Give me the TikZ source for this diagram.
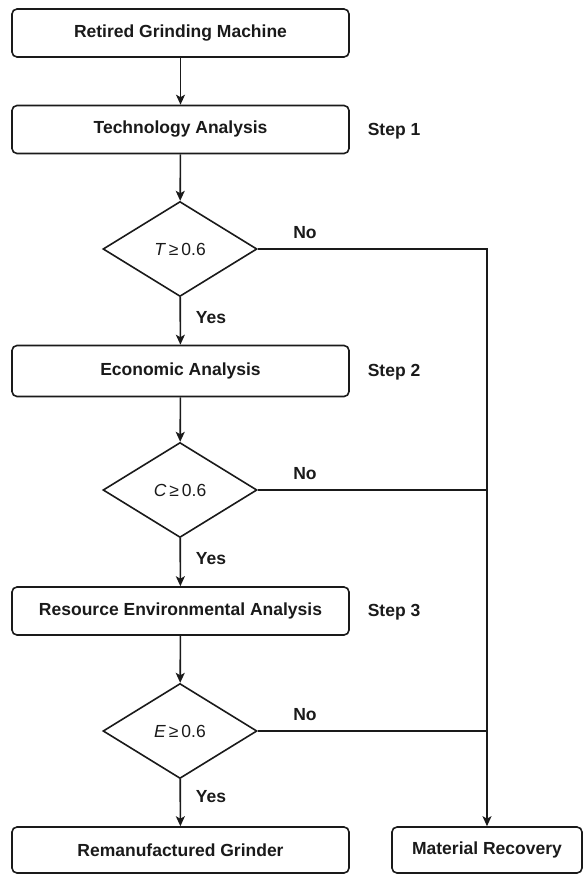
\documentclass[tikz,border=0pt]{standalone}
\usepackage{fontspec}
\setmainfont{Liberation Sans}
\usetikzlibrary{shapes.geometric,arrows.meta}
\definecolor{ink}{HTML}{1A1A1A}
\begin{document}
\begin{tikzpicture}[x=1pt,y=-1pt,
  line width=1.6pt, draw=ink,
  box/.style={draw=ink,rounded corners=5pt,minimum width=337pt,minimum height=48pt,inner sep=0pt,
    text=ink,font=\bfseries\fontsize{17.5}{19}\selectfont},
  dec/.style={draw=ink,diamond,minimum width=154pt,minimum height=95pt,inner sep=0pt,
    text=ink,font=\fontsize{17.5}{19}\selectfont},
  lbl/.style={text=ink,inner sep=0pt,font=\bfseries\fontsize{17.5}{19}\selectfont},
  arr/.style={draw=ink,-{Stealth[length=10pt,width=9pt,inset=2.5pt]}}
]
\useasboundingbox (0,0) rectangle (583,875);
\node[box] (b1) at (180.5,33) {Retired Grinding Machine};
\node[box] (b2) at (180.5,129.5) {Technology Analysis};
\node[dec] (d1) at (180,249) {\textit{T}\,≥\,0.6};
\node[box,minimum height=51pt] (b3) at (180.5,371) {Economic Analysis};
\node[dec] (d2) at (180,490) {\textit{C}\,≥\,0.6};
\node[box] (b4) at (180.5,611) {Resource Environmental Analysis};
\node[dec] (d3) at (180,731) {\textit{E}\,≥\,0.6};
\node[box,minimum height=46pt] (b5) at (180.5,850) {Remanufactured Grinder};
\node[box,minimum width=190pt,minimum height=46pt] (mr) at (487,850) {Material Recovery};

\node[lbl,anchor=west] (s1) at (367,131) {Step 1};
\node[lbl,anchor=west] (s2) at (367,372) {Step 2};
\node[lbl,anchor=west] (s3) at (367,612) {Step 3};

\node[lbl] (n1) at (305,233) {No};
\node[lbl] (n2) at (305,474) {No};
\node[lbl] (n3) at (305,715) {No};
\node[lbl] (y1) at (211,318) {Yes};
\node[lbl] (y2) at (211,559) {Yes};
\node[lbl] (y3) at (211,797) {Yes};

\coordinate (j) at (487,249);

\draw[arr] (b1) -- (b2);
\draw[arr] (b2) -- (d1);
\draw[arr] (d1) -- (b3);
\draw[arr] (b3) -- (d2);
\draw[arr] (d2) -- (b4);
\draw[arr] (b4) -- (d3);
\draw[arr] (d3) -- (b5);
\draw[arr] (d1.east) -- (j) -- (mr.north);
\draw (d2.east) -- (d2.east -| j);
\draw (d3.east) -- (d3.east -| j);
\end{tikzpicture}
\end{document}
